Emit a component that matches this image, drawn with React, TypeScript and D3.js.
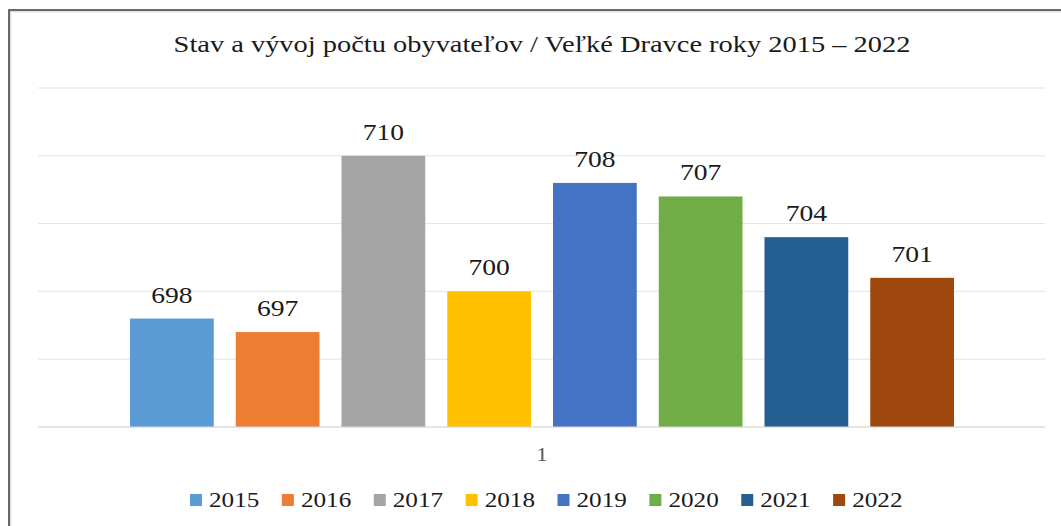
import React from "react"
import * as d3 from "d3"

const WIDTH = 1061
const HEIGHT = 526
const PLOT = { left: 38, right: 1045, top: 88, bottom: 427 }
// the reference text is drawn a little wider than the font itself
const STRETCH = 1.2

const TITLE = "Stav a vývoj počtu obyvateľov / Veľké Dravce roky 2015 – 2022"
const years = ["2015", "2016", "2017", "2018", "2019", "2020", "2021", "2022"]
const population = [698, 697, 710, 700, 708, 707, 704, 701]
const colors = [
    "#5B9BD5",
    "#ED7D31",
    "#A5A5A5",
    "#FFC000",
    "#4472C4",
    "#70AD47",
    "#255E91",
    "#9E480E",
]
const yTicks = [690, 695, 700, 705, 710, 715]
const categoryLabel = "1"

const FONT = '"Liberation Serif", "DejaVu Serif", serif'

const Label = ({
    x,
    y,
    size,
    fill = "#1a1a1a",
    anchor = "middle",
    children,
}: {
    x: number
    y: number
    size: number
    fill?: string
    anchor?: string
    children: React.ReactNode
}) => (
    <g transform={`translate(${x},${y}) scale(${STRETCH},1)`}>
        <text
            x={0}
            y={0}
            textAnchor={anchor}
            style={{ fontFamily: FONT }}
            fontSize={size}
            fill={fill}
        >
            {children}
        </text>
    </g>
)

export default function App() {
    const yScale = d3
        .scaleLinear()
        .domain([690, 715])
        .range([PLOT.bottom, PLOT.top])

    const xScale = d3
        .scaleBand()
        .domain(years)
        .range([119, 965])
        .paddingInner(0.208)
        .paddingOuter(0.104)

    const legendX = d3.scaleBand().domain(years).range([190, 925])

    return (
        <svg
            width={WIDTH}
            height={HEIGHT}
            style={{
                position: "absolute",
                left: 0,
                top: 0,
                background: "#fff",
            }}
        >
            <rect x={0} y={0} width={WIDTH} height={HEIGHT} fill="#fff" />
            <rect
                x={10.5}
                y={11.5}
                width={1080}
                height={540}
                fill="none"
                stroke="#e0e0e0"
                strokeWidth={2}
            />
            <rect
                x={9}
                y={10}
                width={1080}
                height={540}
                fill="none"
                stroke="#3a3a3a"
                strokeWidth={1.5}
            />

            <Label x={542} y={52} size={23.7}>
                {TITLE}
            </Label>

            {yTicks.map((t) => (
                <line
                    key={t}
                    x1={PLOT.left}
                    x2={PLOT.right}
                    y1={yScale(t)}
                    y2={yScale(t)}
                    stroke="#e3e3e3"
                    strokeWidth={1}
                />
            ))}

            {years.map((yr, i) => {
                const x = xScale(yr) || 0
                const v = population[i]
                return (
                    <g key={yr}>
                        <rect
                            x={x}
                            y={yScale(v)}
                            width={xScale.bandwidth()}
                            height={PLOT.bottom - yScale(v)}
                            fill={colors[i]}
                        />
                        <Label
                            x={x + xScale.bandwidth() / 2}
                            y={yScale(v) - 16}
                            size={23}
                        >
                            {v}
                        </Label>
                    </g>
                )
            })}

            <line
                x1={PLOT.left}
                x2={PLOT.right}
                y1={PLOT.bottom}
                y2={PLOT.bottom}
                stroke="#d9d9d9"
                strokeWidth={1.2}
            />

            <Label x={542} y={461} size={19} fill="#595959">
                {categoryLabel}
            </Label>

            {years.map((yr, i) => {
                const lx = legendX(yr) || 0
                return (
                    <g key={"lg" + yr}>
                        <rect
                            x={lx}
                            y={494}
                            width={12}
                            height={12}
                            fill={colors[i]}
                        />
                        <Label x={lx + 19} y={507} size={21} anchor="start">
                            {yr}
                        </Label>
                    </g>
                )
            })}
        </svg>
    )
}
